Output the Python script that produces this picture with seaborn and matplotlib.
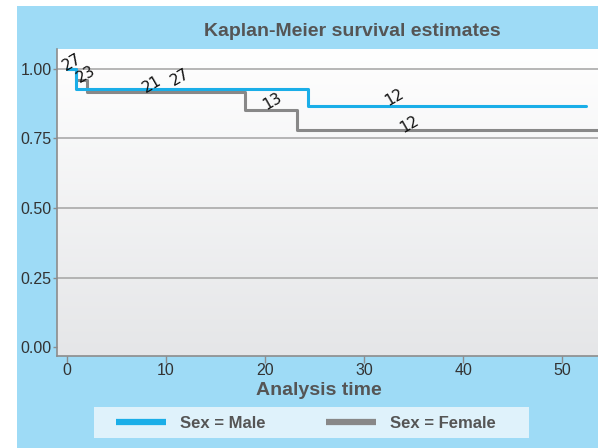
import matplotlib.pyplot as plt
import numpy as np
import pandas as pd
import seaborn as sns
from matplotlib.colors import LinearSegmentedColormap
from matplotlib.patches import Rectangle

# Kaplan-Meier step data
male_time = [0, 0.9, 24.3, 52.4]
male_surv = [1.0, 0.929, 0.868, 0.868]
female_time = [0, 0.9, 2.0, 18.0, 23.2, 54.0]
female_surv = [1.0, 0.958, 0.918, 0.853, 0.780, 0.780]

# numbers at risk written on the curves
risk_text = ['27', '23', '21', '27', '13', '12', '12']
risk_x = [0.5, 1.9, 8.6, 11.4, 20.7, 33.1, 34.6]
risk_y = [1.025, 0.982, 0.946, 0.971, 0.882, 0.896, 0.800]

male_color = '#1aaee8'
female_color = '#888888'
bg_color = '#9edbf6'

df_m = pd.DataFrame({'time': male_time, 'surv': male_surv})
df_f = pd.DataFrame({'time': female_time, 'surv': female_surv})

sns.set_style('white')
plt.rcParams['font.family'] = ['Liberation Sans', 'DejaVu Sans']

fig = plt.figure(figsize=(5.98, 4.48), dpi=100)
fig.patch.set_facecolor('white')
fig.patches.append(Rectangle((17 / 598, 0), 1, 1 - 6 / 448, transform=fig.transFigure,
                             facecolor=bg_color, edgecolor='none', zorder=-10))

ax = fig.add_axes([57 / 598, (448 - 356) / 448, (598 - 57) / 598, (356 - 49) / 448])
xlim = (-1.0, 53.6)
ylim = (-0.032, 1.071)

# soft vertical gradient behind the plot
cmap = LinearSegmentedColormap.from_list('bg', ['#e5e6e8', '#ffffff'])
ax.imshow(np.linspace(0, 1, 256).reshape(-1, 1), cmap=cmap, origin='lower',
          extent=[xlim[0], xlim[1], ylim[0], ylim[1]], aspect='auto', zorder=0)

for yv in [0.25, 0.5, 0.75, 1.0]:
    ax.axhline(yv, color='#a9a9a9', lw=1.2, zorder=1)

sns.lineplot(data=df_f, x='time', y='surv', ax=ax, drawstyle='steps-post',
             color=female_color, lw=2.2, estimator=None, zorder=3)
sns.lineplot(data=df_m, x='time', y='surv', ax=ax, drawstyle='steps-post',
             color=male_color, lw=2.2, estimator=None, zorder=4)

for t, x, y in zip(risk_text, risk_x, risk_y):
    ax.text(x, y, t, rotation=30, ha='center', va='center', fontsize=11,
            color='#111111', zorder=5, family='DejaVu Sans')

ax.set_xlim(xlim)
ax.set_ylim(ylim)
ax.set_xticks([0, 10, 20, 30, 40, 50])
ax.set_yticks([0, 0.25, 0.5, 0.75, 1.0])
ax.set_yticklabels(['0.00', '0.25', '0.50', '0.75', '1.00'])
ax.tick_params(axis='x', direction='out', length=5, width=1, color='#8c8c8c',
               labelsize=11.5, labelcolor='#333333', pad=0, bottom=True)
ax.tick_params(axis='y', direction='out', length=3, width=1, color='#8c8c8c',
               labelsize=11.5, labelcolor='#333333', pad=1, left=True)
ax.set_xlabel('')
ax.set_ylabel('')
for s in ['top', 'right']:
    ax.spines[s].set_visible(False)
for s in ['left', 'bottom']:
    ax.spines[s].set_color('#8c8c8c')
    ax.spines[s].set_linewidth(1.2)

fig.text(352 / 598, 1 - 31 / 448, 'Kaplan-Meier survival estimates', ha='center',
         va='center', fontsize=14, fontweight='bold', color='#555555')
fig.text(319 / 598, 1 - 390 / 448, 'Analysis time', ha='center', va='center',
         fontsize=14, fontweight='bold', color='#555555')

# legend box
fig.patches.append(Rectangle((94 / 598, 1 - 438 / 448), (529 - 94) / 598, 31 / 448,
                             transform=fig.transFigure, facecolor='#dff2fb',
                             edgecolor='none', zorder=-5))
handles = [plt.Line2D([], [], color=male_color, lw=4.5, solid_capstyle='butt'),
           plt.Line2D([], [], color=female_color, lw=4.5, solid_capstyle='butt')]
leg = fig.legend(handles, ['Sex = Male', 'Sex = Female'], loc='center left',
                 bbox_to_anchor=(101 / 598, 1 - 423 / 448), ncol=2, frameon=False,
                 handlelength=3.0, handletextpad=0.85, columnspacing=3.6,
                 prop={'size': 12, 'weight': 'bold'})
for txt in leg.get_texts():
    txt.set_color('#555555')

fig.savefig('out.png', dpi=100)
